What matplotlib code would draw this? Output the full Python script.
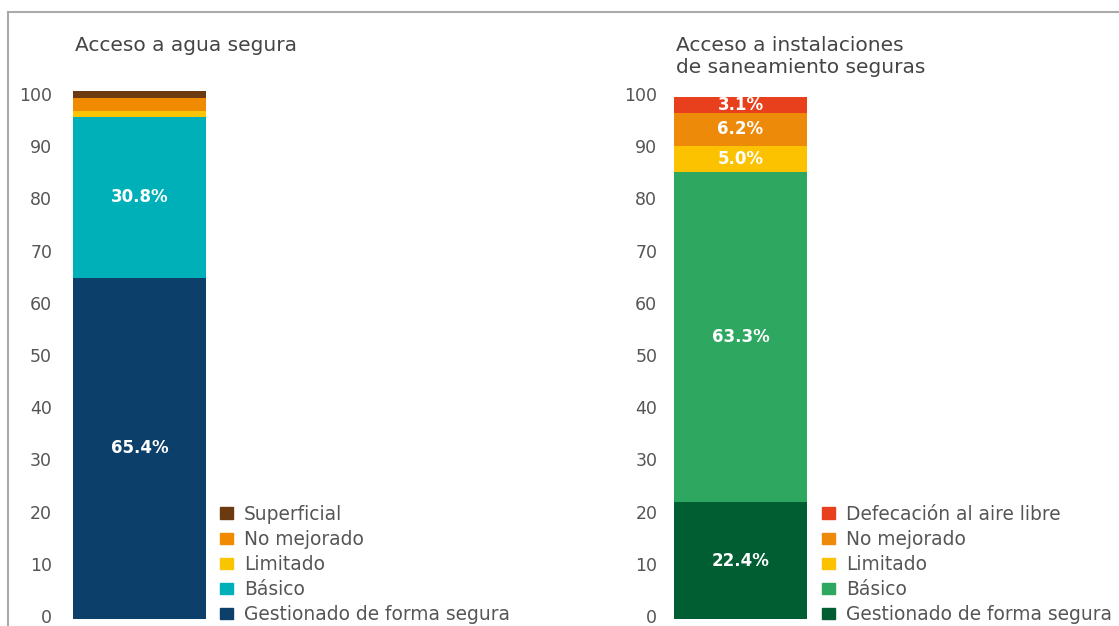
import matplotlib.pyplot as plt
from matplotlib.lines import Line2D
from matplotlib.patches import Patch
import matplotlib.transforms as mtransforms

# data
water_cats = ["Gestionado de forma segura", "Básico", "Limitado", "No mejorado", "Superficial"]
water_vals = [65.4, 30.8, 1.1, 2.6, 1.3]
water_labels = ["65.4%", "30.8%", "", "", ""]
water_colors = ["#0d3f6b", "#00b0b9", "#f9c500", "#f08a00", "#6b3a10"]

san_cats = ["Gestionado de forma segura", "Básico", "Limitado", "No mejorado", "Defecación al aire libre"]
san_vals = [22.4, 63.3, 5.0, 6.2, 3.1]
san_labels = ["22.4%", "63.3%", "5.0%", "6.2%", "3.1%"]
san_colors = ["#005e32", "#2ea860", "#fcc200", "#ee8a0a", "#e8401c"]

yticks = list(range(0, 101, 10))

W, H = 1119, 626
plt.rcParams['font.family'] = ['DejaVu Sans']
fig = plt.figure(figsize=(W / 100, H / 100), dpi=100)
text_color = "#555555"
ytop = 102


def px(x, y, w, h):
    return [x / W, (H - y - h) / H, w / W, h / H]


def draw_panel(ax_left, title, cats, vals, labels, colors, tick_pad, leg_x):
    ax = fig.add_axes(px(ax_left, 619 - ytop * 5.22, 133, ytop * 5.22))
    bottom = 0
    for c, v, lab, col in zip(cats, vals, labels, colors):
        ax.bar(0, v, width=1, bottom=bottom, color=col, label=c)
        if lab:
            ax.text(0, bottom + v / 2, lab, ha="center", va="center",
                    color="white", fontsize=12, fontweight="bold")
        bottom += v
    ax.set_xlim(-0.5, 0.5)
    ax.set_ylim(0, ytop)
    ax.set_yticks(yticks)
    ax.tick_params(axis="y", length=0, pad=tick_pad, labelsize=12.5, labelcolor=text_color)
    ax.set_xticks([])
    for s in ax.spines.values():
        s.set_visible(False)
    off = mtransforms.ScaledTranslation(0, 3 / 100, fig.dpi_scale_trans)
    for lbl in ax.get_yticklabels():
        lbl.set_transform(lbl.get_transform() + off)
    fig.text((ax_left + 2) / W, 1 - 36 / H, title, ha="left", va="top",
             fontsize=14.5, color="#444444", linespacing=1.2)
    handles = [Patch(color=col, label=c) for c, col in zip(cats, colors)][::-1]
    fig.legend(handles=handles, loc="lower left",
               bbox_to_anchor=(leg_x / W, 0.0 / H), frameon=False,
               fontsize=13.4, labelcolor=text_color, handlelength=0.7,
               handleheight=0.55, handletextpad=0.6, labelspacing=0.33,
               borderpad=0.1, borderaxespad=0)
    return ax


draw_panel(73, "Acceso a agua segura", water_cats, water_vals, water_labels,
           water_colors, 15, 218)
draw_panel(674, "Acceso a instalaciones\nde saneamiento seguras", san_cats, san_vals,
           san_labels, san_colors, 12, 820)

# frame lines
fig.add_artist(Line2D([8 / W, 1], [1 - 12 / H, 1 - 12 / H], color="#aaaaaa", lw=1.5))
fig.add_artist(Line2D([8 / W, 8 / W], [0, 1 - 12 / H], color="#aaaaaa", lw=1.5))

fig.savefig("out.png", dpi=100)
